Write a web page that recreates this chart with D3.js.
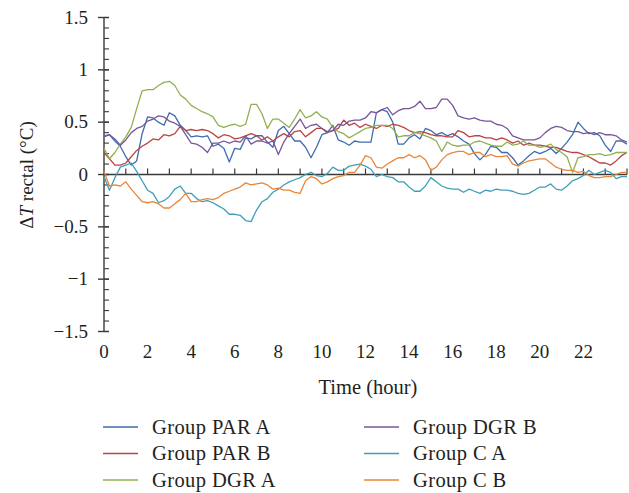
<!DOCTYPE html>
<html>
<head>
<meta charset="utf-8">
<script src="https://cdn.jsdelivr.net/npm/d3@7"></script>
<style>
  html, body { margin: 0; padding: 0; background: #fff; }
  svg text { font-family: "Liberation Serif", "DejaVu Serif", serif; fill: #231f20; }
</style>
</head>
<body>
<svg id="chart" width="629" height="493"></svg>
<script>
// time grid: one reading every quarter hour, 0 to 24 h
const hours = d3.range(0, 97).map((i) => i / 4);

const parA = [0.36,0.38,0.32,0.27,0.17,0.09,0.13,0.39,0.55,0.54,0.50,0.47,0.59,0.56,0.47,0.42,0.36,0.37,0.36,0.37,0.27,0.29,0.25,0.12,0.25,
  0.24,0.35,0.34,0.37,0.37,0.31,0.26,0.42,0.46,0.39,0.32,0.32,0.26,0.16,0.26,0.38,0.40,0.47,0.33,0.31,0.28,0.32,0.31,0.31,
  0.31,0.59,0.62,0.60,0.50,0.29,0.29,0.35,0.38,0.34,0.44,0.42,0.38,0.40,0.37,0.39,0.36,0.32,0.29,0.20,0.14,0.19,0.27,0.26,
  0.21,0.21,0.16,0.09,0.13,0.18,0.22,0.20,0.22,0.25,0.20,0.25,0.31,0.38,0.50,0.44,0.39,0.40,0.37,0.28,0.22,0.32,0.32,0.29];
const parB = [0.21,0.15,0.09,0.09,0.11,0.17,0.23,0.27,0.30,0.34,0.33,0.38,0.37,0.39,0.46,0.42,0.43,0.42,0.43,0.42,0.39,0.35,0.38,0.37,0.34,
  0.35,0.37,0.39,0.37,0.33,0.36,0.32,0.36,0.39,0.36,0.41,0.42,0.36,0.40,0.44,0.44,0.41,0.42,0.44,0.52,0.47,0.49,0.45,0.48,
  0.46,0.44,0.47,0.46,0.48,0.47,0.45,0.42,0.40,0.41,0.40,0.38,0.37,0.37,0.36,0.36,0.42,0.40,0.36,0.37,0.37,0.35,0.35,0.33,
  0.35,0.33,0.30,0.32,0.28,0.30,0.28,0.28,0.27,0.26,0.26,0.24,0.22,0.21,0.21,0.19,0.17,0.14,0.11,0.11,0.09,0.13,0.18,0.21];
const dgrA = [0.25,0.15,0.21,0.29,0.36,0.45,0.63,0.80,0.81,0.81,0.85,0.88,0.89,0.85,0.76,0.72,0.66,0.63,0.60,0.58,0.55,0.47,0.45,0.47,0.48,
  0.46,0.48,0.67,0.67,0.58,0.44,0.53,0.53,0.49,0.45,0.53,0.62,0.54,0.56,0.60,0.55,0.53,0.45,0.41,0.39,0.35,0.38,0.41,0.44,
  0.45,0.47,0.47,0.47,0.44,0.36,0.37,0.37,0.40,0.39,0.37,0.35,0.32,0.22,0.31,0.28,0.27,0.28,0.28,0.31,0.32,0.30,0.28,0.27,
  0.27,0.31,0.28,0.29,0.32,0.28,0.28,0.26,0.27,0.29,0.24,0.21,0.17,0.02,0.16,0.17,0.19,0.19,0.20,0.18,0.19,0.21,0.21,0.21];
const dgrB = [0.37,0.38,0.34,0.28,0.33,0.40,0.44,0.46,0.51,0.53,0.56,0.55,0.51,0.49,0.46,0.38,0.30,0.29,0.26,0.21,0.30,0.30,0.32,0.30,0.32,
  0.31,0.37,0.29,0.32,0.32,0.30,0.32,0.19,0.31,0.39,0.46,0.53,0.44,0.47,0.48,0.44,0.40,0.42,0.48,0.47,0.51,0.52,0.52,0.54,
  0.60,0.59,0.62,0.64,0.57,0.61,0.63,0.63,0.65,0.70,0.63,0.63,0.64,0.72,0.72,0.66,0.56,0.54,0.53,0.54,0.52,0.51,0.51,0.48,
  0.47,0.44,0.37,0.35,0.33,0.33,0.33,0.35,0.40,0.44,0.46,0.45,0.42,0.41,0.41,0.39,0.40,0.38,0.40,0.38,0.38,0.37,0.33,0.31];
const cA = [-0.02,-0.15,-0.03,0.07,0.09,0.11,0.03,-0.06,-0.15,-0.18,-0.27,-0.25,-0.21,-0.14,-0.11,-0.18,-0.18,-0.23,-0.26,-0.25,-0.27,-0.30,-0.33,-0.38,-0.38,
  -0.39,-0.44,-0.45,-0.34,-0.26,-0.23,-0.17,-0.14,-0.10,-0.07,-0.05,-0.03,0.00,0.02,-0.01,-0.02,0.01,0.07,0.04,0.04,0.08,0.09,0.10,0.08,
  0.05,-0.02,0.00,-0.02,-0.03,-0.07,-0.07,-0.12,-0.16,-0.16,-0.11,-0.03,-0.07,-0.11,-0.13,-0.14,-0.14,-0.17,-0.14,-0.16,-0.18,-0.15,-0.16,-0.14,
  -0.15,-0.15,-0.16,-0.18,-0.19,-0.18,-0.15,-0.12,-0.12,-0.09,-0.14,-0.15,-0.11,-0.06,-0.04,-0.01,0.04,0.00,0.02,0.04,0.02,-0.04,-0.02,-0.02];
const cB = [0.03,-0.11,-0.10,-0.11,-0.07,-0.14,-0.20,-0.26,-0.27,-0.26,-0.28,-0.32,-0.32,-0.28,-0.24,-0.18,-0.26,-0.26,-0.24,-0.23,-0.24,-0.22,-0.18,-0.16,-0.14,
  -0.12,-0.08,-0.10,-0.09,-0.08,-0.10,-0.14,-0.13,-0.15,-0.15,-0.17,-0.18,-0.06,-0.02,-0.04,-0.09,-0.07,-0.04,-0.02,-0.01,0.02,0.02,0.09,0.18,
  0.16,0.07,0.06,0.10,0.13,0.16,0.16,0.19,0.16,0.18,0.14,0.04,0.07,0.14,0.19,0.21,0.22,0.22,0.19,0.21,0.21,0.17,0.19,0.17,
  0.17,0.18,0.10,0.08,0.11,0.13,0.14,0.15,0.15,0.11,0.07,0.05,0.04,0.04,0.02,0.03,-0.01,-0.03,-0.03,-0.02,-0.02,0.00,0.02,0.02];

const seriesNames = ["Group PAR A", "Group PAR B", "Group DGR A", "Group DGR B", "Group C A", "Group C B"];
const seriesValues = [parA, parB, dgrA, dgrB, cA, cB];
const colors = ["#3f6cae", "#b94441", "#92b052", "#775799", "#3f9fb9", "#e9863a"];

const xTicks = d3.range(0, 23, 2);   // labelled hours
const yTicks = [-1.5, -1, -0.5, 0, 0.5, 1, 1.5];

const svg = d3.select("#chart");
const x = d3.scaleLinear().domain([0, 24]).range([104, 627]);
const y = d3.scaleLinear().domain([-1.5, 1.5]).range([331.5, 17.5]);
const axisColor = "#3a3a3a";
const fmt = (v) => (v < 0 ? "\u2212" + Math.abs(v) : String(v));

// y axis: line, minor ticks inside, major ticks across
const yAxis = svg.append("g");
yAxis.append("line")
  .attr("x1", x(0)).attr("x2", x(0))
  .attr("y1", y(-1.5)).attr("y2", y(1.5))
  .attr("stroke", axisColor).attr("stroke-width", 1.4);
yAxis.selectAll("line.minor")
  .data(d3.range(-15, 16).map((i) => i / 10))
  .enter().append("line")
  .attr("x1", x(0)).attr("x2", x(0) + 5)
  .attr("y1", (d) => y(d)).attr("y2", (d) => y(d))
  .attr("stroke", axisColor).attr("stroke-width", 1.1);
yAxis.selectAll("line.major")
  .data(yTicks)
  .enter().append("line")
  .attr("x1", x(0) - 6).attr("x2", x(0) + 5)
  .attr("y1", (d) => y(d)).attr("y2", (d) => y(d))
  .attr("stroke", axisColor).attr("stroke-width", 1.4);
yAxis.selectAll("text")
  .data(yTicks)
  .enter().append("text")
  .attr("x", 88).attr("y", (d) => y(d))
  .attr("dy", "0.33em")
  .attr("text-anchor", "end")
  .attr("font-size", 19)
  .text(fmt);

// zero line with hourly ticks
const xAxis = svg.append("g");
xAxis.append("line")
  .attr("x1", x(0)).attr("x2", x(24))
  .attr("y1", y(0)).attr("y2", y(0))
  .attr("stroke", axisColor).attr("stroke-width", 1.4);
xAxis.selectAll("line.tick")
  .data(d3.range(1, 25))
  .enter().append("line")
  .attr("x1", (d) => x(d)).attr("x2", (d) => x(d))
  .attr("y1", y(0)).attr("y2", y(0) - 6)
  .attr("stroke", axisColor).attr("stroke-width", 1.2);
xAxis.selectAll("text")
  .data(xTicks)
  .enter().append("text")
  .attr("x", (d) => x(d)).attr("y", 358)
  .attr("text-anchor", "middle")
  .attr("font-size", 19)
  .text((d) => d);

// series
const line = d3.line()
  .x((d, i) => x(hours[i]))
  .y((d) => y(d));
svg.append("g")
  .selectAll("path")
  .data(seriesValues)
  .enter().append("path")
  .attr("d", line)
  .attr("fill", "none")
  .attr("stroke", (d, i) => colors[i])
  .attr("stroke-width", 1.3)
  .attr("stroke-linejoin", "round");

// axis titles
svg.append("text")
  .attr("x", 368).attr("y", 394)
  .attr("text-anchor", "middle")
  .attr("font-size", 20.5)
  .text("Time (hour)");

const yTitle = svg.append("text")
  .attr("transform", "translate(33,175) rotate(-90)")
  .attr("text-anchor", "middle")
  .attr("font-size", 19);
yTitle.append("tspan").text("\u0394");
yTitle.append("tspan").attr("font-style", "italic").text("T");
yTitle.append("tspan").text(" rectal (\u00B0C)");

// legend, two columns of three
const legend = svg.append("g")
  .selectAll("g")
  .data(seriesNames)
  .enter().append("g")
  .attr("transform", (d, i) => `translate(${i < 3 ? 103 : 364},${427 + (i % 3) * 26.5})`);
legend.append("line")
  .attr("x1", 0).attr("x2", 35)
  .attr("stroke", (d, i) => colors[i])
  .attr("stroke-width", 1.5);
legend.append("text")
  .attr("x", 49).attr("dy", "0.33em")
  .attr("font-size", 20.5)
  .attr("letter-spacing", 0.4)
  .text((d) => d);
</script>
</body>
</html>
